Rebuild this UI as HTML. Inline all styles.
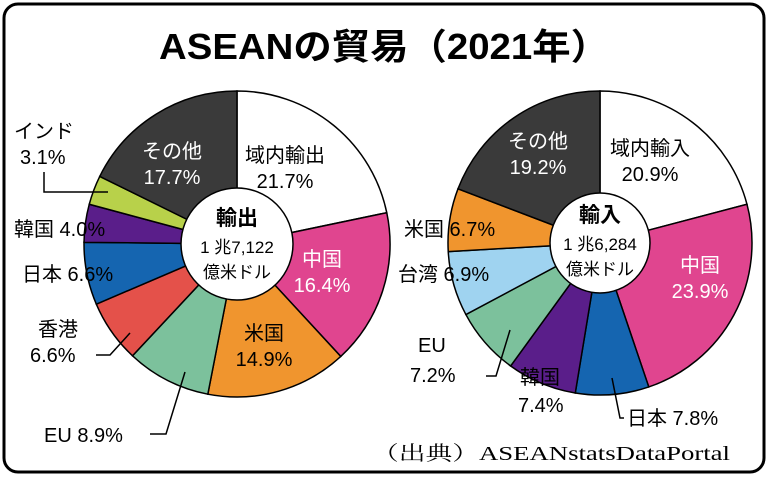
<!DOCTYPE html>
<html><head><meta charset="utf-8"><style>
html,body{margin:0;padding:0;background:#fff;}
svg{display:block;}
text{font-family:"Liberation Sans","Noto Sans CJK JP",sans-serif;}
text.src{font-family:"Liberation Serif","Noto Serif CJK SC",serif;}
</style></head><body>
<svg id="s" width="768" height="477" viewBox="0 0 768 477" xmlns="http://www.w3.org/2000/svg">
<rect x="4" y="4" width="760" height="468" rx="14" fill="#fff" stroke="#000" stroke-width="3"/>
<g id="pies"></g>
<text x="384" y="59" text-anchor="middle" font-size="36" font-weight="bold" fill="#000" textLength="450" lengthAdjust="spacingAndGlyphs">ASEANの貿易（2021年）</text>
<g font-size="20" fill="#000">
<text x="285" y="162" text-anchor="middle">域内輸出</text>
<text x="285" y="188" text-anchor="middle">21.7%</text>
<text x="322" y="266" text-anchor="middle" fill="#fff">中国</text>
<text x="322" y="292" text-anchor="middle" fill="#fff">16.4%</text>
<text x="264" y="340" text-anchor="middle">米国</text>
<text x="264" y="366" text-anchor="middle">14.9%</text>
<text x="172" y="158" text-anchor="middle" fill="#fff">その他</text>
<text x="172" y="184" text-anchor="middle" fill="#fff">17.7%</text>
<text x="14" y="138">インド</text>
<text x="20" y="164">3.1%</text>
<text x="14" y="236">韓国 4.0%</text>
<text x="22" y="281">日本 6.6%</text>
<text x="38" y="336">香港</text>
<text x="30" y="362">6.6%</text>
<text x="44" y="442">EU 8.9%</text>
<text x="650" y="155" text-anchor="middle">域内輸入</text>
<text x="650" y="181" text-anchor="middle">20.9%</text>
<text x="700" y="272" text-anchor="middle" fill="#fff">中国</text>
<text x="700" y="298" text-anchor="middle" fill="#fff">23.9%</text>
<text x="538" y="148" text-anchor="middle" fill="#fff">その他</text>
<text x="538" y="174" text-anchor="middle" fill="#fff">19.2%</text>
<text x="404" y="236">米国 6.7%</text>
<text x="398" y="281">台湾 6.9%</text>
<text x="418" y="352">EU</text>
<text x="410" y="382">7.2%</text>
<text x="520" y="384">韓国</text>
<text x="518" y="412">7.4%</text>
<text x="627" y="425">日本 7.8%</text>
</g>
<g stroke="#000" stroke-width="1.5" fill="none">
<polyline points="44,172 44,192 108,192"/>
<polyline points="96,355 110,355 130,333"/>
<polyline points="150,434 166,434 185,372"/>
<polyline points="486,376 496,376 510,330"/>
<polyline points="612,378 620,418 624,418"/>
</g>
<g text-anchor="middle" fill="#000">
<text x="237" y="225" font-size="21" font-weight="bold">輸出</text>
<text x="237" y="253" font-size="17">1 兆7,122</text>
<text x="237" y="278" font-size="17">億米ドル</text>
<text x="600" y="222" font-size="21" font-weight="bold">輸入</text>
<text x="600" y="250" font-size="17">1 兆6,284</text>
<text x="600" y="275" font-size="17">億米ドル</text>
</g>
<text class="src" x="372" y="460" font-size="20" fill="#000" textLength="358" lengthAdjust="spacingAndGlyphs">（出典）ASEANstatsDataPortal</text>
</svg>
<script>
function pie(cx,cy,r,ri,data){
 var g=document.getElementById('pies'),a=0,ns='http://www.w3.org/2000/svg',tot=0;
 data.forEach(function(d){tot+=d[0];});
 data.forEach(function(d){
  var a1=a+d[0]/tot*2*Math.PI;
  var x0=cx+r*Math.sin(a),y0=cy-r*Math.cos(a),x1=cx+r*Math.sin(a1),y1=cy-r*Math.cos(a1);
  var p=document.createElementNS(ns,'path');
  p.setAttribute('d','M'+cx+','+cy+'L'+x0+','+y0+'A'+r+','+r+' 0 '+((a1-a)>Math.PI?1:0)+' 1 '+x1+','+y1+'Z');
  p.setAttribute('fill',d[1]);p.setAttribute('stroke','#000');p.setAttribute('stroke-width','1.5');
  g.appendChild(p);a=a1;});
 var c=document.createElementNS(ns,'circle');
 c.setAttribute('cx',cx);c.setAttribute('cy',cy);c.setAttribute('r',ri);
 c.setAttribute('fill','#fff');c.setAttribute('stroke','#000');c.setAttribute('stroke-width','1.5');g.appendChild(c);
}
pie(237,244,153,56,[[21.7,'#fff'],[16.4,'#e0458f'],[14.9,'#f0952e'],[8.9,'#7cc19c'],[6.6,'#e4514a'],[6.6,'#1565b0'],[4.0,'#5a1e8a'],[3.1,'#b8d14a'],[17.7,'#3a3a3a']]);
pie(600,243,152,50,[[20.9,'#fff'],[23.9,'#e0458f'],[7.8,'#1565b0'],[7.4,'#5a1e8a'],[7.2,'#7cc19c'],[6.9,'#9fd3f0'],[6.7,'#f0952e'],[19.2,'#3a3a3a']]);
</script>
</body></html>
